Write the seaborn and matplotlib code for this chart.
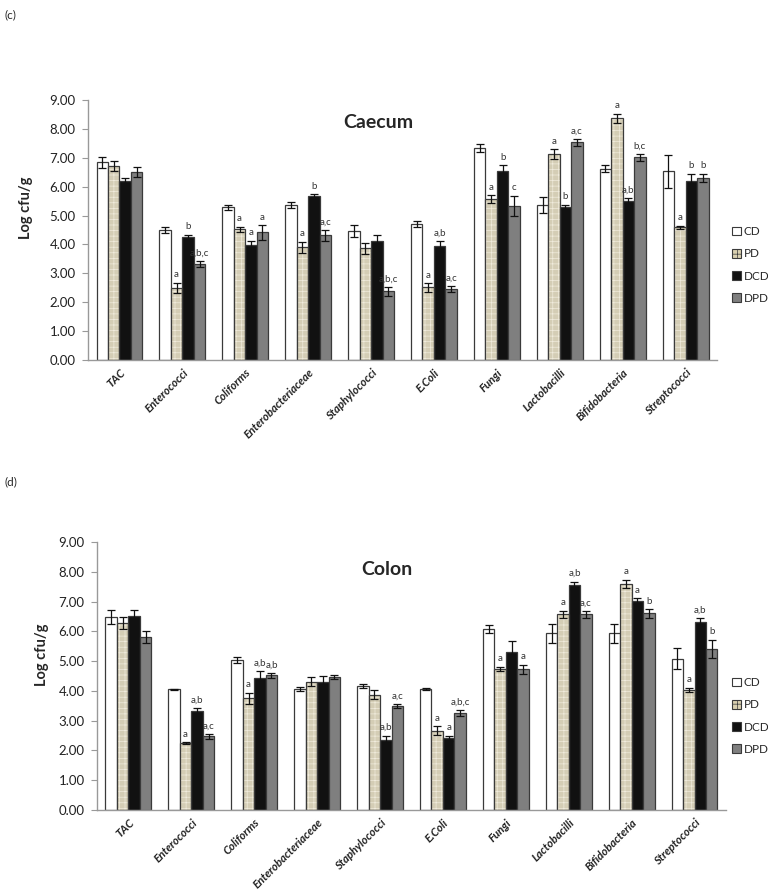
import numpy as np
import pandas as pd
import matplotlib
matplotlib.use("Agg")
import matplotlib.pyplot as plt
from matplotlib.patches import Patch, Rectangle
import seaborn as sns

# --- datos ---
bacterias = ["TAC", "Enterococci", "Coliforms", "Enterobacteriaceae", "Staphylococci",
             "E.Coli", "Fungi", "Lactobacilli", "Bifidobacteria", "Streptococci"]
grupos = ["CD", "PD", "DCD", "DPD"]

# Caecum (medias, error)
caecum_cd = [6.84, 4.50, 5.28, 5.36, 4.46, 4.72, 7.33, 5.36, 6.62, 6.53]
caecum_pd = [6.72, 2.50, 4.52, 3.90, 3.86, 2.51, 5.58, 7.12, 8.36, 4.59]
caecum_dcd = [6.19, 4.26, 3.98, 5.69, 4.12, 3.93, 6.55, 5.30, 5.51, 6.20]
caecum_dpd = [6.52, 3.31, 4.42, 4.31, 2.38, 2.45, 5.33, 7.53, 7.01, 6.31]
caecum_cd_err = [0.18, 0.10, 0.10, 0.10, 0.20, 0.10, 0.13, 0.28, 0.12, 0.58]
caecum_pd_err = [0.17, 0.17, 0.10, 0.20, 0.20, 0.15, 0.13, 0.17, 0.17, 0.06]
caecum_dcd_err = [0.10, 0.08, 0.15, 0.05, 0.20, 0.20, 0.20, 0.08, 0.08, 0.25]
caecum_dpd_err = [0.17, 0.10, 0.25, 0.20, 0.15, 0.10, 0.35, 0.13, 0.12, 0.14]
caecum_pd_let = ["", "a", "a", "a", "", "a", "a", "a", "a", "a"]
caecum_dcd_let = ["", "b", "a", "b", "", "a,b", "b", "b", "a,b", "b"]
caecum_dpd_let = ["", "a,b,c", "a", "a,c", "a,b,c", "a,c", "c", "a,c", "b,c", "b"]

# Colon (medias, error)
colon_cd = [6.48, 4.05, 5.05, 4.06, 4.16, 4.06, 6.08, 5.93, 5.93, 5.08]
colon_pd = [6.28, 2.25, 3.75, 4.30, 3.87, 2.66, 4.74, 6.57, 7.60, 4.03]
colon_dcd = [6.52, 3.32, 4.42, 4.30, 2.35, 2.41, 5.31, 7.55, 7.01, 6.32]
colon_dpd = [5.82, 2.47, 4.52, 4.46, 3.49, 3.25, 4.73, 6.57, 6.60, 5.41]
colon_cd_err = [0.22, 0.02, 0.10, 0.08, 0.06, 0.03, 0.12, 0.32, 0.33, 0.36]
colon_pd_err = [0.20, 0.03, 0.18, 0.15, 0.15, 0.15, 0.07, 0.12, 0.13, 0.08]
colon_dcd_err = [0.18, 0.10, 0.25, 0.20, 0.15, 0.08, 0.35, 0.12, 0.10, 0.12]
colon_dpd_err = [0.20, 0.08, 0.08, 0.06, 0.07, 0.10, 0.15, 0.12, 0.14, 0.30]
colon_pd_let = ["", "a", "a", "", "", "a", "a", "a", "a", "a"]
colon_dcd_let = ["", "a,b", "a,b", "", "a,b", "a", "", "a,b", "a", "a,b"]
colon_dpd_let = ["", "a,c", "a,b", "", "a,c", "a,b,c", "a", "a,c", "b", "b"]

colores = {"CD": "#ffffff", "PD": "#d9d0b0", "DCD": "#111111", "DPD": "#7f7f7f"}

sns.set_style("white")
plt.rcParams["font.family"] = ["Lato", "DejaVu Sans"]
plt.rcParams["hatch.linewidth"] = 0.5


def panel(ax, medias, errores, letras, titulo, tx, ty, ylab_pos):
    df = pd.DataFrame({
        "bacteria": np.tile(bacterias, 4),
        "grupo": np.repeat(grupos, len(bacterias)),
        "valor": np.concatenate(medias),
    })
    sns.barplot(data=df, x="bacteria", y="valor", hue="grupo", hue_order=grupos,
                palette=colores, errorbar=None, width=0.73, ax=ax,
                edgecolor="#3a3a3a", linewidth=0.9, legend=False)
    barras = list(ax.containers)
    for i, cont in enumerate(barras):
        xs = [p.get_x() + p.get_width() / 2 for p in cont.patches]
        if grupos[i] == "PD":
            for p in cont.patches:
                p.set_hatch("+++")
                p.set_edgecolor("#f0ebdc")
                p.set_linewidth(0)
                ax.add_patch(Rectangle(p.get_xy(), p.get_width(), p.get_height(),
                                       fill=False, ec="#3a3a3a", lw=0.9, zorder=p.get_zorder() + 0.1))
        ax.errorbar(xs, medias[i], yerr=errores[i], fmt="none", ecolor="#111111",
                    elinewidth=0.9, capsize=3, capthick=0.9, zorder=5)
        if i > 0:
            for x, m, e, t in zip(xs, medias[i], errores[i], letras[i - 1]):
                if t:
                    ax.text(x, m + e + 0.12, t, ha="center", va="bottom",
                            fontsize=7, color="#333333")
    ax.set_ylim(0, 9)
    ax.set_xlim(-0.5, len(bacterias) - 0.5)
    ax.set_yticks(range(10))
    ax.set_yticklabels([f"{v:.2f}" for v in range(10)], fontsize=9.5, color="#222222")
    ax.set_xticks(range(len(bacterias)))
    ax.set_xticklabels(bacterias, rotation=45, ha="right", rotation_mode="anchor",
                       fontsize=8.2, fontweight="bold", fontstyle="italic", color="#222222")
    ax.set_xticks(np.arange(-0.5, len(bacterias)), minor=True)
    ax.tick_params(axis="x", which="major", length=0, pad=5)
    ax.tick_params(axis="x", which="minor", length=4, color="#999999", direction="out")
    ax.tick_params(axis="y", length=4, color="#999999", direction="out", left=True, pad=5)
    ax.set_xlabel("")
    ax.set_ylabel("Log cfu/g", fontsize=10.5, fontweight="bold")
    ax.yaxis.set_label_coords(*ylab_pos)
    for s in ["top", "right"]:
        ax.spines[s].set_visible(False)
    for s in ["left", "bottom"]:
        ax.spines[s].set_color("#999999")
        ax.spines[s].set_linewidth(1)
    ax.text(tx, ty, titulo, transform=ax.transAxes, ha="center", va="center",
            fontsize=14, fontweight="bold")


fig = plt.figure(figsize=(7.68, 8.91), dpi=100)
ax1 = fig.add_axes([0.1146, 0.5960, 0.819, 0.2918])
ax2 = fig.add_axes([0.1263, 0.0909, 0.819, 0.3008])

panel(ax1, [caecum_cd, caecum_pd, caecum_dcd, caecum_dpd],
      [caecum_cd_err, caecum_pd_err, caecum_dcd_err, caecum_dpd_err],
      [caecum_pd_let, caecum_dcd_let, caecum_dpd_let], "Caecum", 0.461, 0.915,
      (-0.088, 0.585))
panel(ax2, [colon_cd, colon_pd, colon_dcd, colon_dpd],
      [colon_cd_err, colon_pd_err, colon_dcd_err, colon_dpd_err],
      [colon_pd_let, colon_dcd_let, colon_dpd_let], "Colon", 0.461, 0.896,
      (-0.077, 0.578))

handles = [Patch(facecolor=colores[g], edgecolor="#3a3a3a", linewidth=0.8,
                 hatch="++" if g == "PD" else None) for g in grupos]
for yc in [1 - 265 / 891, 1 - 716 / 891]:
    fig.legend(handles, grupos, loc="center left", bbox_to_anchor=(0.953, yc),
               frameon=False, fontsize=8.5, handlelength=0.75, handleheight=0.75,
               handletextpad=0.25, labelspacing=0.95, borderpad=0, borderaxespad=0)

fig.text(0.006, 0.99, "(c)", fontsize=8.5, va="top")
fig.text(0.006, 1 - 476 / 891, "(d)", fontsize=8.5, va="top")

fig.savefig("out.png", dpi=100)
